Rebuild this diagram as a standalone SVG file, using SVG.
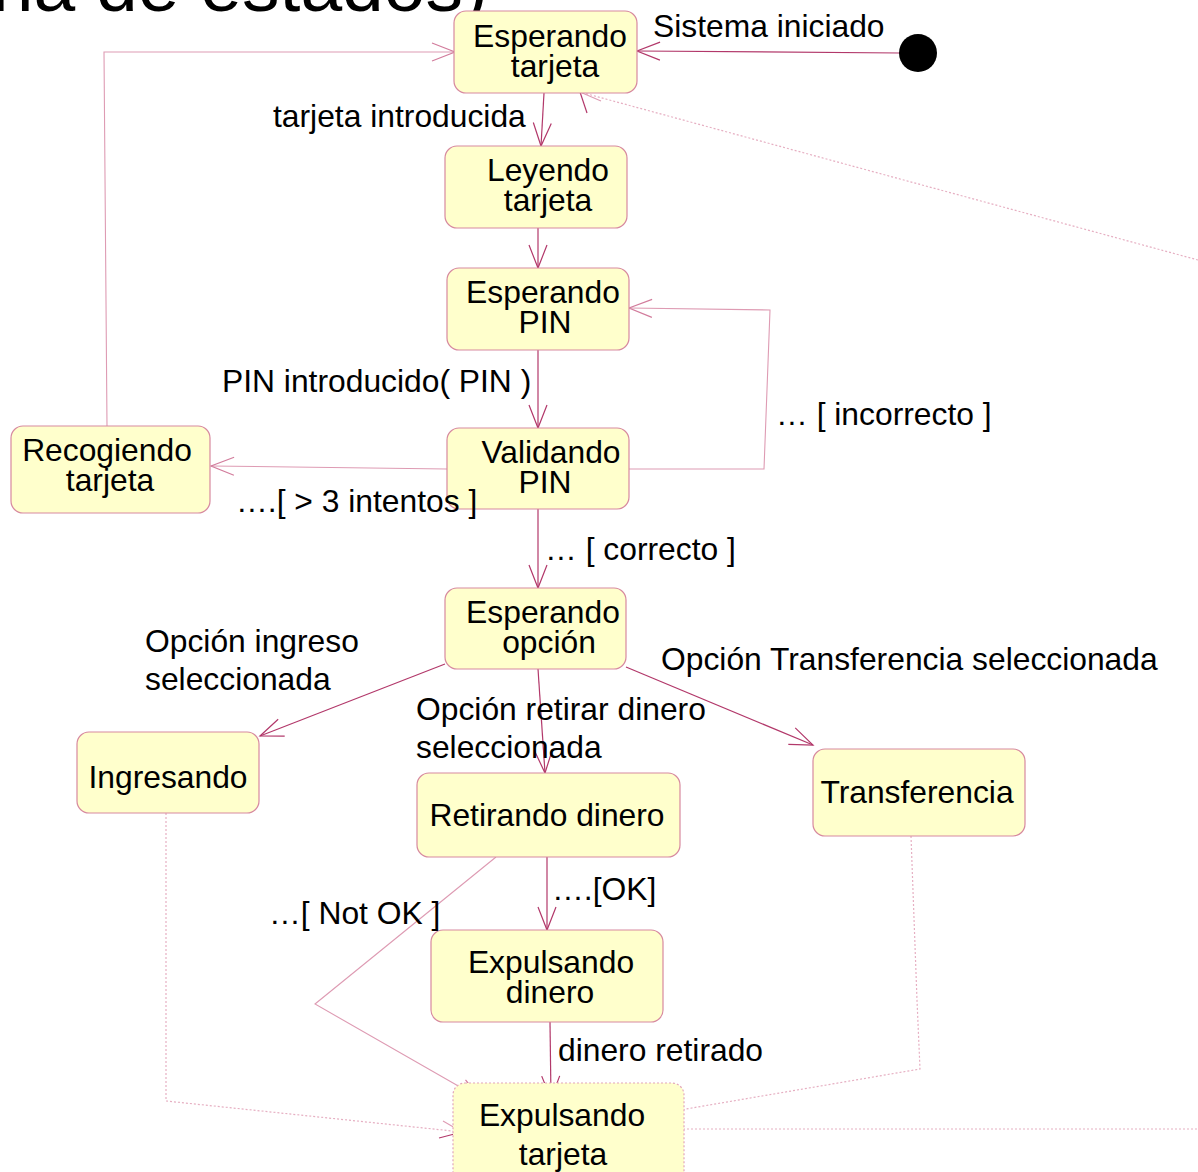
<svg xmlns="http://www.w3.org/2000/svg" width="1198" height="1172" viewBox="0 0 1198 1172">
  <style>
    text { font-family: "Liberation Sans", Arial, sans-serif; fill: #000; }
    .title { font-size: 75px; }
    .lbl { font-size: 31.8px; }
    .st rect { fill: #FFFFCC; stroke: #D7899F; stroke-width: 1.2; }
    .st text { font-size: 31.8px; text-anchor: middle; }
    .st.dot rect { stroke-dasharray: 2 2; stroke: #E2A6BA; }
    .strong { fill: none; stroke: #B2386A; stroke-width: 1.2; }
    .faint { fill: none; stroke: #DE9BB3; stroke-width: 1.1; }
    .dotted { fill: none; stroke: #E6AFC2; stroke-width: 1.2; stroke-dasharray: 2 2; }
  </style>
  <defs>
    <marker id="arr" markerUnits="userSpaceOnUse" markerWidth="30" markerHeight="24" viewBox="-26 -12 30 24" refX="0" refY="0" orient="auto">
      <path d="M-23,-9 L0,0 L-23,9" fill="none" stroke="#B2386A" stroke-width="1.2"/>
    </marker>
    <marker id="arrf" markerUnits="userSpaceOnUse" markerWidth="30" markerHeight="24" viewBox="-26 -12 30 24" refX="0" refY="0" orient="auto">
      <path d="M-23,-9 L0,0 L-23,9" fill="none" stroke="#D27C9C" stroke-width="1.2"/>
    </marker>
  </defs>

  <rect width="1198" height="1172" fill="#FFFFFF"/>

  <!-- heading, cut by the top edge -->
  <text class="title" x="488" y="11" text-anchor="end">na de estados)</text>

  <!-- transitions -->
  <g id="connectors">
    <!-- initial state to Esperando tarjeta -->
    <path class="strong" d="M900,53 L637,51" marker-end="url(#arr)"/>
    <!-- tarjeta introducida -->
    <path class="strong" d="M544,93 L541,146" marker-end="url(#arr)"/>
    <path class="strong" d="M538,228 L538,268" marker-end="url(#arr)"/>
    <!-- PIN introducido -->
    <path class="strong" d="M538,350 L538,428" marker-end="url(#arr)"/>
    <!-- incorrecto: back to Esperando PIN -->
    <path class="faint" d="M629,469 L764,469 L770,310 L629,308" marker-end="url(#arrf)"/>
    <!-- more than 3 attempts -->
    <path class="faint" d="M447,469 L211,466" marker-end="url(#arrf)"/>
    <!-- Recogiendo tarjeta back to Esperando tarjeta -->
    <path class="faint" d="M107,426 L104,52 L455,52" marker-end="url(#arrf)"/>
    <!-- correcto -->
    <path class="strong" d="M538,509 L538,588" marker-end="url(#arr)"/>
    <!-- option branches -->
    <path class="strong" d="M445,664 L260,736" marker-end="url(#arr)"/>
    <path class="strong" d="M538,669 L545,773" marker-end="url(#arr)"/>
    <path class="strong" d="M626,667 L813,745" marker-end="url(#arr)"/>
    <!-- OK -->
    <path class="strong" d="M547,857 L547,930" marker-end="url(#arr)"/>
    <!-- Not OK -->
    <path class="faint" d="M496,857 L315,1004 L481,1099" marker-end="url(#arrf)"/>
    <!-- dinero retirado -->
    <path class="strong" d="M550,1022 L551,1099" marker-end="url(#arr)"/>
    <!-- Ingresando to Expulsando tarjeta -->
    <path class="dotted" d="M166,813 L166,1101 L462,1132"/>
    <path class="strong" d="M462,1132 L439,1138"/>
    <path class="faint" d="M462,1132 L443,1121"/>
    <!-- Transferencia to Expulsando tarjeta -->
    <path class="dotted" d="M911,836 L917,1000 L920,1069 L645,1116"/>
    <path class="strong" d="M645,1116 L663,1101"/>
    <path class="faint" d="M645,1116 L669,1118"/>
    <!-- Expulsando tarjeta back to Esperando tarjeta, leaving the sheet -->
    <path class="dotted" d="M651,1129 L1198,1129"/>
    <path class="dotted" d="M1198,260 L580,92"/>
    <path class="strong" d="M580,92 L587,113"/>
    <path class="faint" d="M580,92 L601,101"/>
  </g>

  <!-- initial state -->
  <g id="initial">
    <circle cx="918" cy="53" r="19" fill="#000"/>
  </g>

  <!-- states -->
  <g id="esperando-tarjeta" class="st">
    <rect x="454" y="11" width="183" height="82" rx="12"/>
    <text x="550" y="47">Esperando</text>
    <text x="555" y="77">tarjeta</text>
  </g>
  <g id="leyendo-tarjeta" class="st">
    <rect x="445" y="146" width="182" height="82" rx="12"/>
    <text x="548" y="181">Leyendo</text>
    <text x="548" y="211">tarjeta</text>
  </g>
  <g id="esperando-pin" class="st">
    <rect x="447" y="268" width="182" height="82" rx="12"/>
    <text x="543" y="303">Esperando</text>
    <text x="545" y="333">PIN</text>
  </g>
  <g id="validando-pin" class="st">
    <rect x="447" y="428" width="182" height="81" rx="12"/>
    <text x="551" y="463">Validando</text>
    <text x="545" y="493">PIN</text>
  </g>
  <g id="recogiendo-tarjeta" class="st">
    <rect x="11" y="426" width="199" height="87" rx="12"/>
    <text x="107" y="461">Recogiendo</text>
    <text x="110" y="491">tarjeta</text>
  </g>
  <g id="esperando-opcion" class="st">
    <rect x="445" y="588" width="181" height="81" rx="12"/>
    <text x="543" y="623">Esperando</text>
    <text x="549" y="653">opción</text>
  </g>
  <g id="ingresando" class="st">
    <rect x="77" y="732" width="182" height="81" rx="12"/>
    <text x="168" y="788">Ingresando</text>
  </g>
  <g id="retirando-dinero" class="st">
    <rect x="417" y="773" width="263" height="84" rx="12"/>
    <text x="547" y="826">Retirando dinero</text>
  </g>
  <g id="transferencia" class="st">
    <rect x="813" y="749" width="212" height="87" rx="12"/>
    <text x="917" y="803">Transferencia</text>
  </g>
  <g id="expulsando-dinero" class="st">
    <rect x="431" y="930" width="232" height="92" rx="12"/>
    <text x="551" y="973">Expulsando</text>
    <text x="550" y="1003">dinero</text>
  </g>
  <g id="expulsando-tarjeta" class="st dot">
    <rect x="453" y="1083" width="231" height="110" rx="12"/>
    <text x="562" y="1126">Expulsando</text>
    <text x="563" y="1165">tarjeta</text>
  </g>

  <!-- transition labels -->
  <g id="labels">
    <text class="lbl" x="653" y="37">Sistema iniciado</text>
    <text class="lbl" x="273" y="127">tarjeta introducida</text>
    <text class="lbl" x="222" y="392">PIN introducido( PIN )</text>
    <text class="lbl" x="776" y="425">… [ incorrecto ]</text>
    <text class="lbl" x="236" y="512">….[ &gt; 3 intentos ]</text>
    <text class="lbl" x="545" y="560">… [ correcto ]</text>
    <text class="lbl" x="145" y="652">Opción ingreso</text>
    <text class="lbl" x="145" y="690">seleccionada</text>
    <text class="lbl" x="661" y="670">Opción Transferencia seleccionada</text>
    <text class="lbl" x="416" y="720">Opción retirar dinero</text>
    <text class="lbl" x="416" y="758">seleccionada</text>
    <text class="lbl" x="552" y="900">….[OK]</text>
    <text class="lbl" x="269" y="924">…[ Not OK ]</text>
    <text class="lbl" x="558" y="1061">dinero retirado</text>
  </g>
</svg>
